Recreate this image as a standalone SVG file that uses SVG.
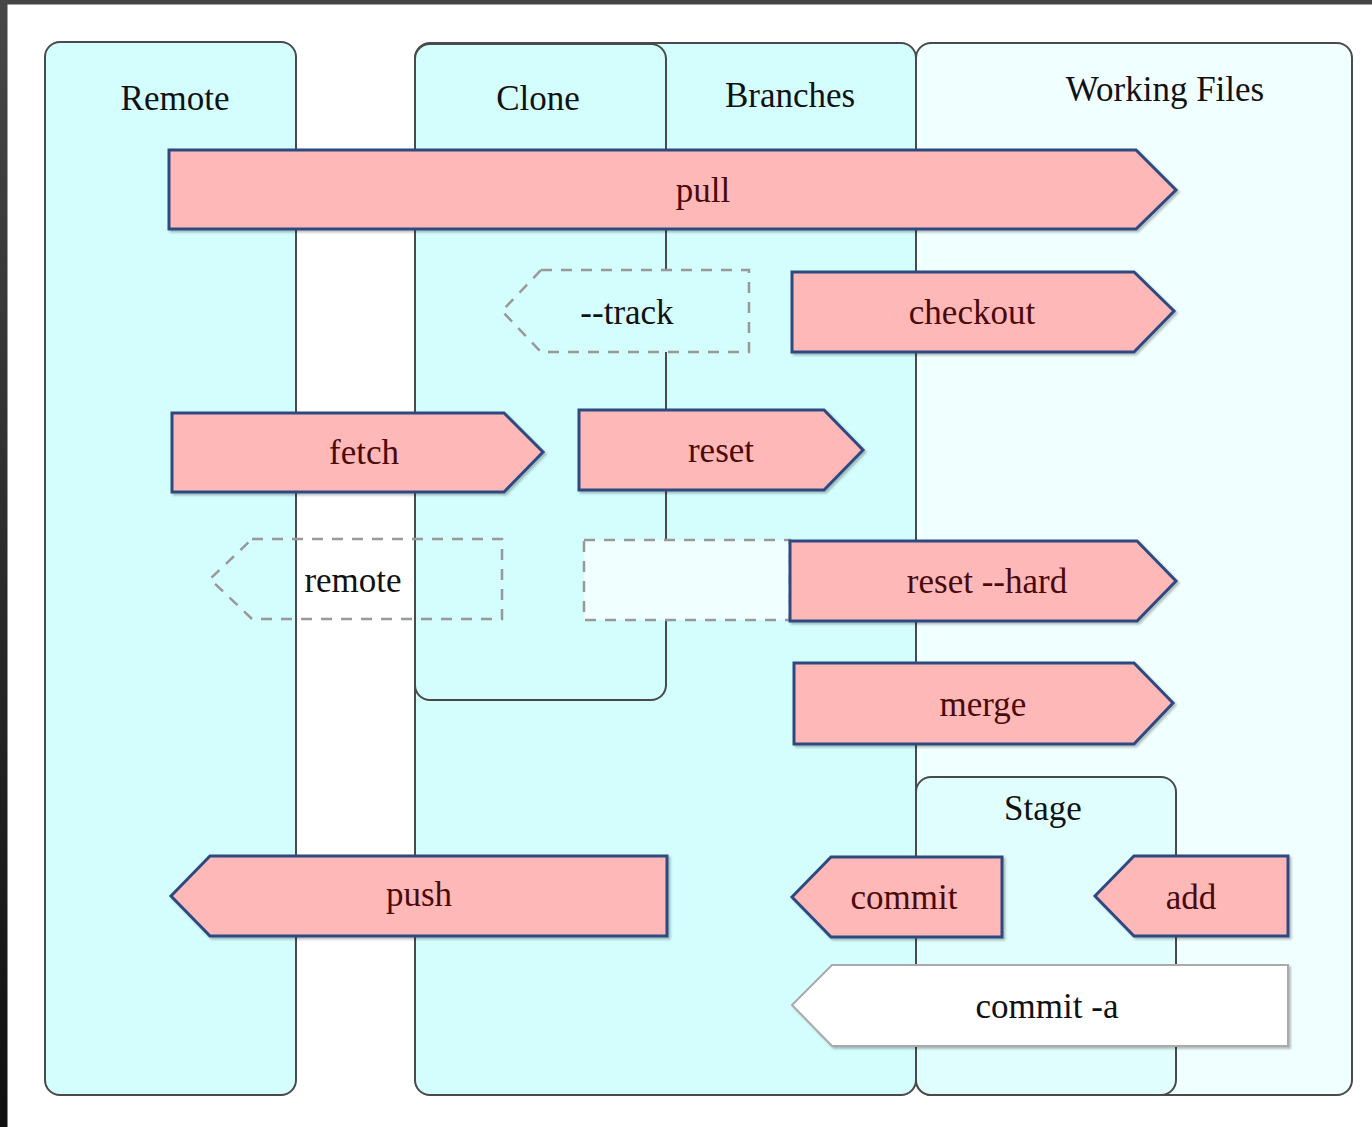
<svg xmlns="http://www.w3.org/2000/svg" width="1372" height="1127" viewBox="0 0 1372 1127">
<defs>
<linearGradient id="lg" x1="0" y1="0" x2="0" y2="1"><stop offset="0" stop-color="#474747"/><stop offset="1" stop-color="#101010"/></linearGradient>
<filter id="sh" x="-5%" y="-10%" width="115%" height="130%"><feDropShadow dx="2" dy="2" stdDeviation="1.2" flood-color="#000" flood-opacity="0.25"/></filter>
</defs>
<style>
.panel{stroke:#4a4a4a;stroke-width:2}
.cy{fill:#d4fdfd}
.az{fill:#f0ffff}
.lc{fill:#e0fefe}
.arr{fill:#ffb8b8;stroke:#2f4a80;stroke-width:3;stroke-linejoin:miter;filter:url(#sh)}
.dash{stroke:#999;stroke-width:2.5;stroke-dasharray:11 9}
.wa{fill:#fff;stroke:#aaa;stroke-width:2;filter:url(#sh)}
.t{fill:#111}
.lt{fill:#4a0a0a}
</style>
<rect x="0" y="0" width="1372" height="1127" fill="#fff"/>
<rect x="0" y="0" width="1372" height="4.5" fill="#454545"/>
<rect x="0" y="0" width="7.5" height="1127" fill="url(#lg)"/>
<g font-family="Liberation Serif, DejaVu Serif, Times New Roman, serif" font-size="35" text-anchor="middle">
<g id="working-files">
<rect class="panel az" x="916" y="43" width="436" height="1052" rx="15"/>
<text class="t" x="1165" y="101">Working Files</text>
</g>
<g id="stage">
<rect class="panel lc" x="916" y="777" width="260" height="318" rx="15"/>
<text class="t" x="1043" y="820">Stage</text>
</g>
<g id="branches">
<rect class="panel cy" x="415" y="43" width="501" height="1052" rx="15"/>
<text class="t" x="790" y="107">Branches</text>
</g>
<g id="clone">
<rect class="panel cy" x="415" y="44" width="251" height="656" rx="15"/>
<text class="t" x="538" y="110">Clone</text>
</g>
<g id="remote">
<rect class="panel cy" x="45" y="42" width="251" height="1053" rx="15"/>
<text class="t" x="175" y="110">Remote</text>
</g>

<g id="connectors">
<g id="pull">
<path class="arr" d="M169,150 H1136 L1176,190 L1136,229 H169 Z"/>
<text class="lt" x="703" y="202">pull</text>
</g>
<g id="track">
<path class="dash cy" d="M541,270 H749 V352 H541 L502,311 Z"/>
<text class="t" x="627" y="324">--track</text>
</g>
<g id="checkout">
<path class="arr" d="M792,272 H1134 L1174,311 L1134,352 H792 Z"/>
<text class="lt" x="972" y="324">checkout</text>
</g>
<g id="fetch">
<path class="arr" d="M172,413 H504 L543,452 L504,492 H172 Z"/>
<text class="lt" x="364" y="464">fetch</text>
</g>
<g id="reset">
<path class="arr" d="M579,410 H824 L863,450 L824,490 H579 Z"/>
<text class="lt" x="721" y="462">reset</text>
</g>
<g id="remote-branch">
<path class="dash" fill="none" d="M252,539 H502 V619 H252 L210,579 Z"/>
<text class="t" x="353" y="592">remote</text>
</g>
<g id="blank">
<rect class="dash az" x="584" y="540" width="206" height="80"/>
</g>
<g id="reset-hard">
<path class="arr" d="M790,541 H1137 L1176,581 L1137,621 H790 Z"/>
<text class="lt" x="987" y="593">reset --hard</text>
</g>
<g id="merge">
<path class="arr" d="M794,663 H1134 L1173,703 L1134,744 H794 Z"/>
<text class="lt" x="983" y="716">merge</text>
</g>
<g id="push">
<path class="arr" d="M667,856 H210 L171,896 L210,936 H667 Z"/>
<text class="lt" x="419" y="906">push</text>
</g>
<g id="commit">
<path class="arr" d="M1002,857 H831 L792,897 L831,937 H1002 Z"/>
<text class="lt" x="904" y="909">commit</text>
</g>
<g id="add">
<path class="arr" d="M1288,856 H1134 L1095,896 L1134,936 H1288 Z"/>
<text class="lt" x="1191" y="909">add</text>
</g>
<g id="commit-a">
<path class="wa" d="M1288,965 H832 L792,1005 L832,1046 H1288 Z"/>
<text class="t" x="1047" y="1018">commit -a</text>
</g>
</g>
</g>
</svg>
